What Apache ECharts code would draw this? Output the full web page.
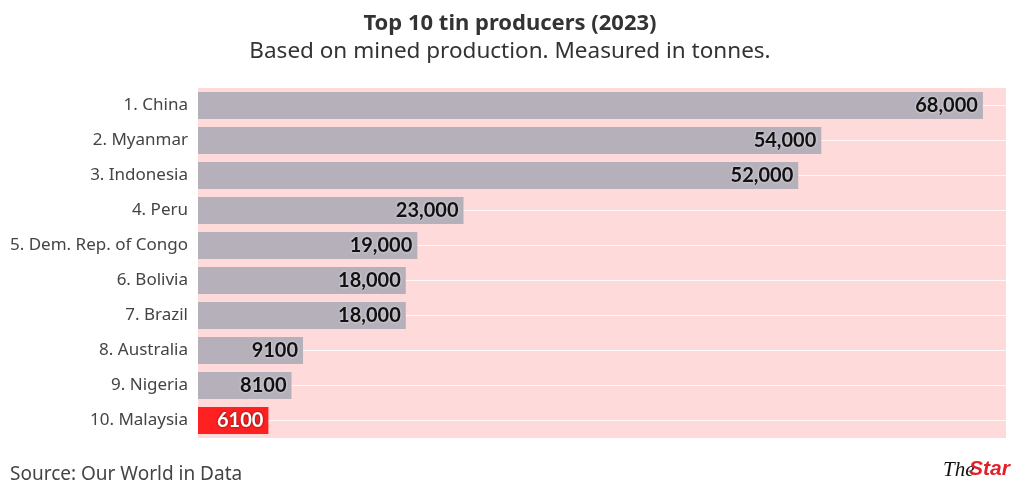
<!DOCTYPE html>
<html>
<head>
<meta charset="utf-8">
<script src="https://cdn.jsdelivr.net/npm/echarts@6/dist/echarts.min.js"></script>
<style>html,body{margin:0;padding:0;background:#fff;}#c{width:1020px;height:499px;}</style>
</head>
<body>
<div id="c"></div>
<script>
const categories = ['1. China','2. Myanmar','3. Indonesia','4. Peru','5. Dem. Rep. of Congo','6. Bolivia','7. Brazil','8. Australia','9. Nigeria','10. Malaysia'];
const values = [68000,54000,52000,23000,19000,18000,18000,9100,8100,6100];
const highlight = '10. Malaysia';

const chart = echarts.init(document.getElementById('c'));
const fmt = v => v >= 10000 ? v.toLocaleString('en-US') : String(v);
chart.setOption({
  animation: false,
  title: [
    {text: 'Top 10 tin producers (2023)', left: 'center', top: 8,
     textStyle: {fontFamily: 'Noto Sans', fontSize: 22, fontWeight: 'bold', color: '#333'}},
    {text: 'Based on mined production. Measured in tonnes.', left: 'center', top: 35,
     textStyle: {fontFamily: 'Noto Sans', fontSize: 22.5, fontWeight: 'normal', color: '#333'}}
  ],
  grid: {left: 198, right: 14, top: 88, bottom: 61, show: true, backgroundColor: '#FFDADA', borderWidth: 0},
  xAxis: {type: 'value', min: 0, max: 70000, show: false, splitLine: {show: false}},
  yAxis: {type: 'category', data: categories, inverse: true,
    axisLine: {show: false}, axisTick: {show: false},
    splitLine: {show: true, alignWithLabel: true, lineStyle: {color: 'rgba(255,255,255,0.8)', width: 1}},
    axisLabel: {fontFamily: 'Noto Sans', fontSize: 17, color: '#444', margin: 10}},
  series: [{
    type: 'bar', barWidth: 27,
    data: values.map((v, i) => ({
      value: v,
      itemStyle: {color: categories[i] === highlight ? '#FF2121' : '#B5B0BA'},
      label: categories[i] === highlight
        ? {color: '#fff', textShadowColor: 'rgba(0,0,0,0.6)', textShadowBlur: 3}
        : {color: '#111', textShadowColor: 'rgba(255,255,255,0.7)', textShadowBlur: 3}
    })),
    label: {show: true, position: 'insideRight', distance: 5, fontFamily: 'Lato', fontSize: 20, fontWeight: 'bold',
      formatter: p => fmt(p.value)}
  }],
  graphic: [
    {type: 'text', left: 10, top: 465, style: {text: 'Source: Our World in Data', fontFamily: 'Noto Sans', fontSize: 19, fill: '#444'}},
    {type: 'text', left: 943, top: 460, style: {text: 'The', fontFamily: 'Liberation Serif', fontStyle: 'italic', fontSize: 21, fill: '#111'}},
    {type: 'text', left: 969, top: 459, style: {text: 'Star', fontFamily: 'Liberation Sans', fontStyle: 'italic', fontWeight: 'bold', fontSize: 21, fill: '#E0202A'}}
  ]
});
</script>
</body>
</html>
